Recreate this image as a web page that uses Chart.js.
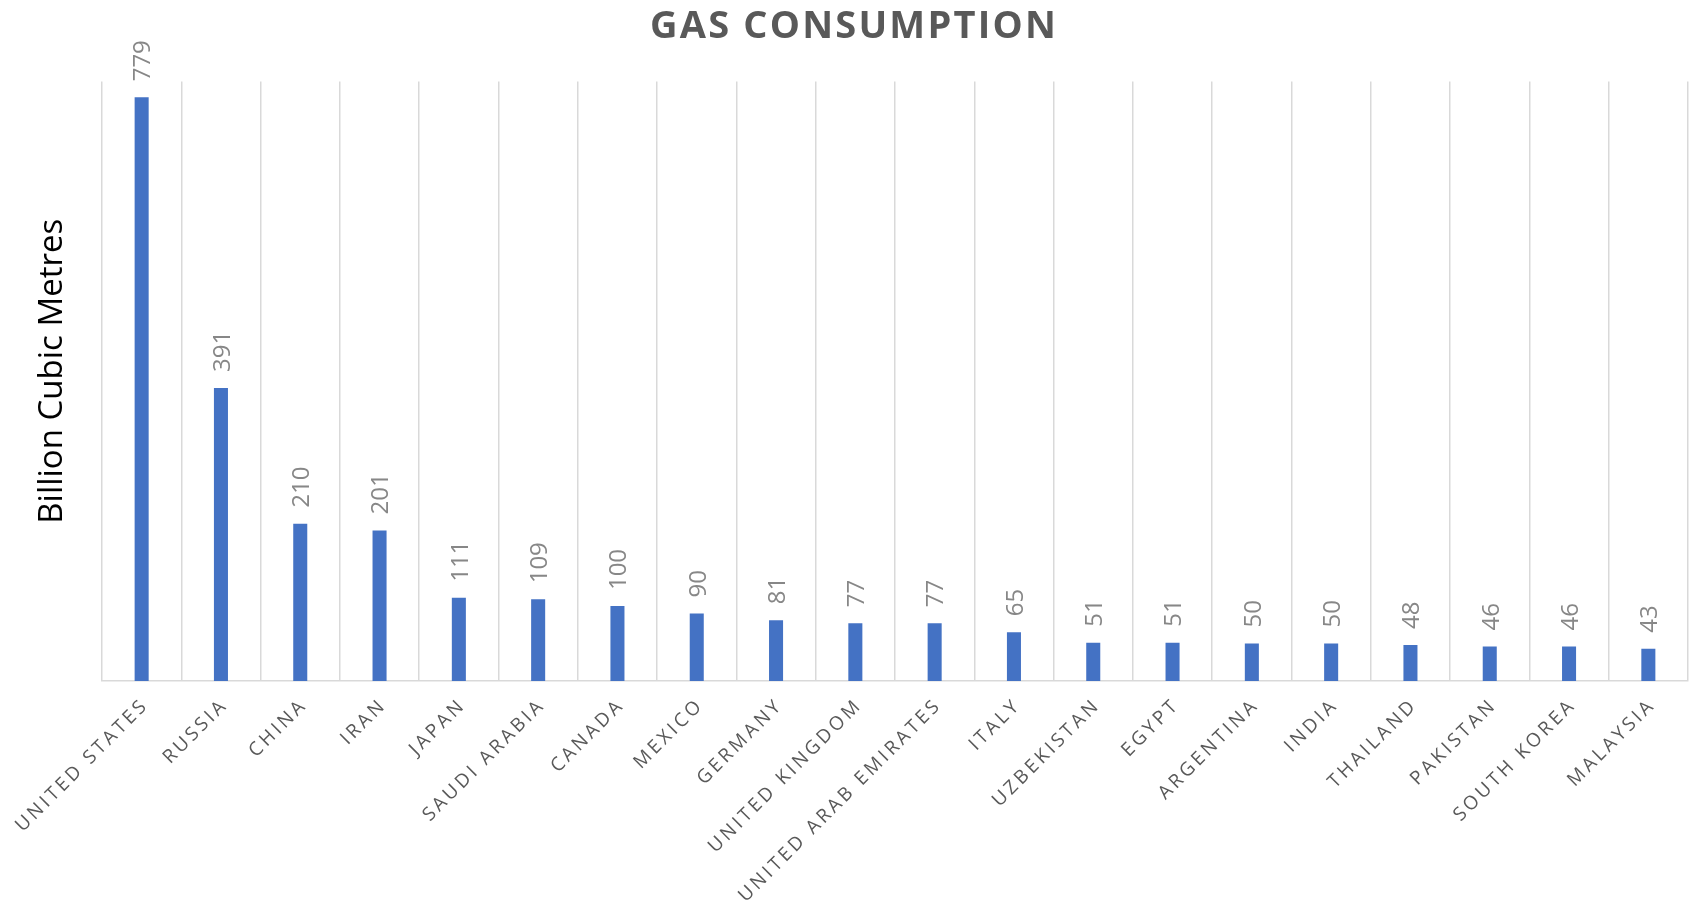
<!DOCTYPE html>
<html>
<head>
<meta charset="utf-8">
<title>Gas Consumption</title>
<script src="https://cdn.jsdelivr.net/npm/chart.js@4.4.1/dist/chart.umd.min.js"></script>
<style>
    html, body { margin: 0; padding: 0; background: #ffffff; }
    #wrap { width: 1694px; height: 904px; position: relative; }
</style>
</head>
<body>
<div id="wrap"><canvas id="gasChart"></canvas></div>
<script>
// ─── Data ──────────────────────────────────────────────────────────────────
const countries = [
    'UNITED STATES', 'RUSSIA', 'CHINA', 'IRAN', 'JAPAN', 'SAUDI ARABIA',
    'CANADA', 'MEXICO', 'GERMANY', 'UNITED KINGDOM', 'UNITED ARAB EMIRATES',
    'ITALY', 'UZBEKISTAN', 'EGYPT', 'ARGENTINA', 'INDIA', 'THAILAND',
    'PAKISTAN', 'SOUTH KOREA', 'MALAYSIA'
];
const consumption = [779, 391, 210, 201, 111, 109, 100, 90, 81, 77, 77, 65, 51, 51, 50, 50, 48, 46, 46, 43];
const yRange = [0, 800];

const BAR_BLUE   = '#4472C4';
const GRID_GREY  = '#D9D9D9';
const LABEL_GREY = '#595959';
const VALUE_GREY = '#878787';

// Category axis whose tick labels are drawn letter-spaced
class SpacedCategoryScale extends Chart.CategoryScale {
    drawLabels(chartArea) {
        const ctx = this.ctx;
        ctx.save();
        ctx.letterSpacing = '3.2px';
        ctx.translate(4, -3);
        super.drawLabels(chartArea);
        ctx.restore();
    }
}
SpacedCategoryScale.id = 'spacedCategory';
SpacedCategoryScale.defaults = Chart.CategoryScale.defaults;

// Value axis: plain (unspaced) title, nudged up a little
class PlainLinearScale extends Chart.LinearScale {
    drawTitle() {
        const ctx = this.ctx;
        ctx.save();
        ctx.letterSpacing = '0px';
        ctx.translate(0, -10);
        super.drawTitle();
        ctx.restore();
    }
}
PlainLinearScale.id = 'plainLinear';
PlainLinearScale.defaults = Chart.LinearScale.defaults;

Chart.register(SpacedCategoryScale, PlainLinearScale);

// Spaced lettering for the chart title (drawn first among the boxes)
const titleSpacing = {
    id: 'titleSpacing',
    beforeDraw(chart)         { chart.ctx.letterSpacing = '2.2px'; },
    beforeDatasetsDraw(chart) { chart.ctx.letterSpacing = '0px'; }
};

// Value written vertically above each bar
const valueLabels = {
    id: 'valueLabels',
    afterDatasetsDraw(chart) {
        const ctx  = chart.ctx;
        const meta = chart.getDatasetMeta(0);
        ctx.save();
        ctx.letterSpacing = '0px';
        ctx.font = '24px "Open Sans"';
        ctx.fillStyle = VALUE_GREY;
        ctx.textAlign = 'left';
        ctx.textBaseline = 'middle';
        meta.data.forEach((bar, i) => {
            ctx.save();
            ctx.translate(bar.x + 2, bar.y - 16);
            ctx.rotate(-Math.PI / 2);
            ctx.fillText(String(consumption[i]), 0, 0);
            ctx.restore();
        });
        ctx.restore();
    }
};

new Chart(document.getElementById('gasChart'), {
    type: 'bar',
    data: {
        labels: countries,
        datasets: [{
            label: 'Gas consumption',
            data: consumption,
            backgroundColor: BAR_BLUE,
            borderWidth: 0,
            barPercentage: 0.177,
            categoryPercentage: 1
        }]
    },
    options: {
        responsive: true,
        maintainAspectRatio: false,
        animation: false,
        layout: { padding: { left: 20, right: 6, top: 0, bottom: 0 } },
        plugins: {
            legend:  { display: false },
            tooltip: { enabled: false },
            title: {
                display: true,
                text: 'GAS CONSUMPTION',
                color: LABEL_GREY,
                font: { family: "'Open Sans'", size: 38, weight: 'bold' },
                padding: { top: 4, bottom: 32 }
            }
        },
        scales: {
            x: {
                type: 'spacedCategory',
                offset: true,
                grid:   { offset: true, color: GRID_GREY, lineWidth: 1.5, drawTicks: false },
                border: { display: true, color: GRID_GREY, width: 1.5 },
                ticks: {
                    autoSkip: false,
                    maxRotation: 45,
                    minRotation: 45,
                    padding: 16,
                    color: LABEL_GREY,
                    font: { family: "'Open Sans'", size: 19 }
                },
                afterFit: scale => { scale.height = 223; }
            },
            y: {
                type: 'plainLinear',
                min: yRange[0],
                max: yRange[1],
                grid:   { display: false },
                border: { display: false },
                ticks:  { display: false },
                title: {
                    display: true,
                    text: 'Billion Cubic Metres',
                    color: '#000000',
                    font: { family: "'Open Sans'", size: 33 },
                    padding: { top: 13, bottom: 0 }
                },
                afterFit: scale => { scale.width = 82; }
            }
        }
    },
    plugins: [titleSpacing, valueLabels]
});
</script>
</body>
</html>
